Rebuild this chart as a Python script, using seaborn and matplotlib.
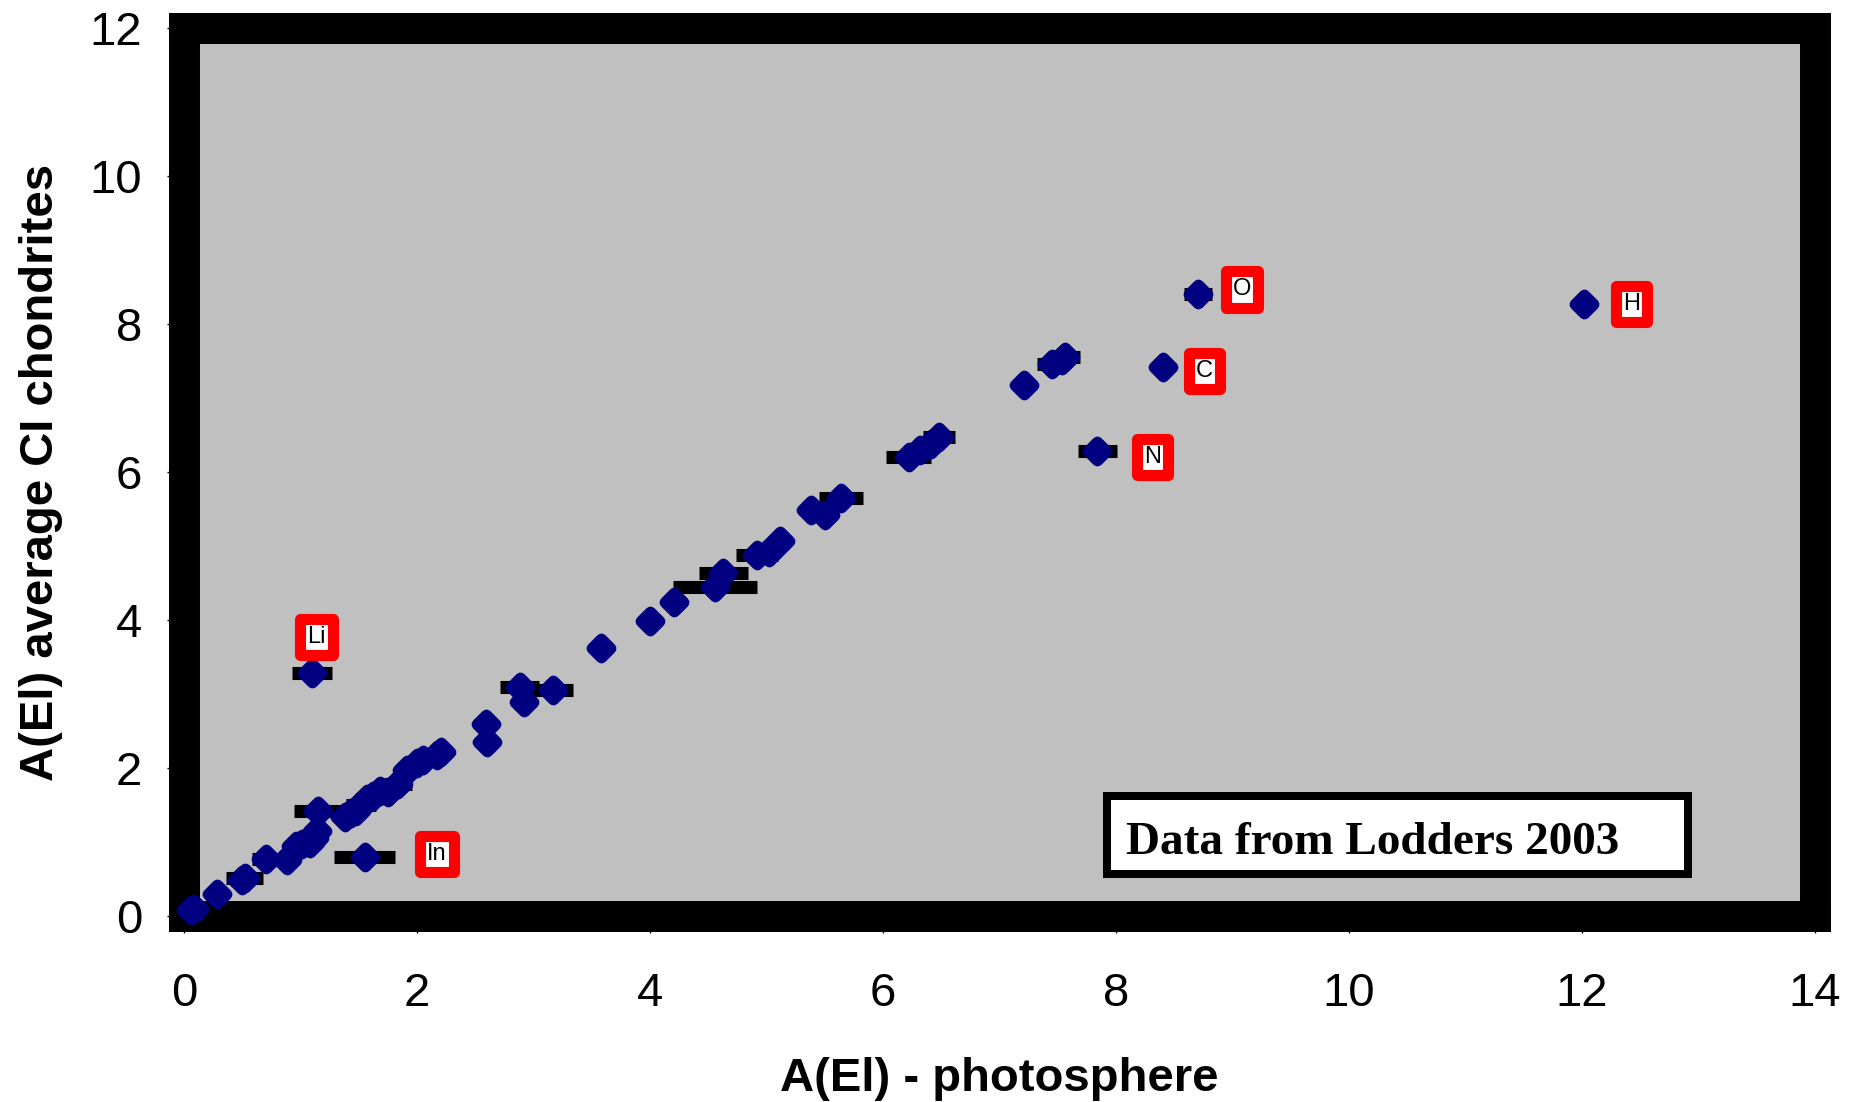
import matplotlib
matplotlib.use("Agg")
import matplotlib.pyplot as plt
import seaborn as sns
import pandas as pd
from matplotlib.markers import MarkerStyle
from matplotlib.patches import Rectangle
from matplotlib.path import Path

# ---- data ----
photosphere = [0.06, 0.09, 0.28, 0.50, 0.52, 0.70, 0.88, 0.96, 1.01, 1.08,
               1.12, 1.14, 1.15, 1.10, 1.55, 1.38, 1.43, 1.48, 1.52, 1.57,
               1.62, 1.68, 1.75, 1.84, 1.91, 2.00, 2.05, 2.17, 2.21, 2.59,
               2.60, 2.88, 2.92, 3.17, 3.58, 4.00, 4.21, 4.56, 4.63, 4.92,
               5.02, 5.12, 5.38, 5.50, 5.64, 6.22, 6.32, 6.41, 6.48, 7.21,
               7.45, 7.54, 7.56, 7.84, 8.40, 8.70, 12.02]
ci_chondrites = [0.08, 0.10, 0.30, 0.48, 0.52, 0.77, 0.76, 0.94, 0.97, 0.99,
                 1.06, 1.15, 1.42, 3.28, 0.80, 1.34, 1.39, 1.42, 1.50, 1.58,
                 1.62, 1.69, 1.67, 1.79, 1.97, 2.07, 2.11, 2.18, 2.21, 2.59,
                 2.35, 3.10, 2.89, 3.06, 3.62, 3.99, 4.25, 4.45, 4.64, 4.88,
                 4.92, 5.07, 5.49, 5.42, 5.65, 6.20, 6.30, 6.38, 6.47, 7.17,
                 7.46, 7.52, 7.56, 6.28, 7.42, 8.41, 8.27]
photosphere_err = [0.04, 0.04, 0.05, 0.10, 0.16, 0.12, 0.08, 0.06, 0.06, 0.10,
                   0.08, 0.06, 0.21, 0.17, 0.26, 0.05, 0.08, 0.05, 0.13, 0.06,
                   0.05, 0.06, 0.06, 0.12, 0.08, 0.06, 0.06, 0.07, 0.05, 0.04,
                   0.07, 0.17, 0.05, 0.17, 0.05, 0.02, 0.04, 0.36, 0.21, 0.18,
                   0.06, 0.07, 0.05, 0.05, 0.19, 0.19, 0.06, 0.05, 0.14, 0.05,
                   0.13, 0.05, 0.13, 0.17, 0.05, 0.12, 0.00]
element_labels = ['', '', '', '', '', '', '', '', '', '',
                  '', '', '', 'Li', 'In', '', '', '', '', '',
                  '', '', '', '', '', '', '', '', '', '',
                  '', '', '', '', '', '', '', '', '', '',
                  '', '', '', '', '', '', '', '', '', '',
                  '', '', '', 'N', 'C', 'O', 'H']
x_ticks = [0, 2, 4, 6, 8, 10, 12, 14]
y_ticks = [0, 2, 4, 6, 8, 10, 12]

# label offsets (points) of the red element tags
label_offsets = {'H': (34, 0), 'O': (32, 3), 'C': (30, -3),
                 'N': (40, -4), 'Li': (3, 26), 'In': (52, 2)}


def rounded_diamond(t=0.25):
    corners = [(0, 1), (1, 0), (0, -1), (-1, 0)]
    verts, codes = [], []
    n = len(corners)
    for i, c in enumerate(corners):
        prev = corners[i - 1]
        nxt = corners[(i + 1) % n]
        a = (c[0] + t * (prev[0] - c[0]), c[1] + t * (prev[1] - c[1]))
        b = (c[0] + t * (nxt[0] - c[0]), c[1] + t * (nxt[1] - c[1]))
        if i == 0:
            verts.append(a); codes.append(Path.MOVETO)
        else:
            verts.append(a); codes.append(Path.LINETO)
        verts += [c, b]; codes += [Path.CURVE3, Path.CURVE3]
    verts.append(verts[0]); codes.append(Path.CLOSEPOLY)
    return Path(verts, codes)


plt.rcParams['font.family'] = ['Liberation Sans', 'DejaVu Sans']

W, H = 1858, 1102
fig = plt.figure(figsize=(W / 100, H / 100), dpi=100)
ax = fig.add_axes([184 / W, 1 - 916 / H, 1631 / W, 888 / H])
ax.set_facecolor('#C0C0C0')

df = pd.DataFrame({'photosphere': photosphere, 'ci': ci_chondrites})

ax.errorbar(photosphere, ci_chondrites, xerr=photosphere_err, fmt='none',
            ecolor='black', elinewidth=9.4, capsize=0, zorder=3, clip_on=False)
sns.scatterplot(data=df, x='photosphere', y='ci', ax=ax,
                marker=MarkerStyle(rounded_diamond(0.25)), s=550,
                color='#000080', edgecolor='#000080', linewidth=1.0,
                legend=False, zorder=4, clip_on=False)

for xv, yv, lab in zip(photosphere, ci_chondrites, element_labels):
    if lab:
        ax.annotate(lab, xy=(xv, yv), xytext=label_offsets[lab],
                    textcoords='offset points', ha='center', va='center',
                    fontsize=17, color='black', zorder=6,
                    annotation_clip=False,
                    bbox=dict(boxstyle='square,pad=0.3', fc='white',
                              ec='red', lw=8, joinstyle='round'))

ax.set_xlim(0, 14)
ax.set_ylim(0, 12)
ax.set_xticks(x_ticks)
ax.set_yticks(y_ticks)
ax.set_xticklabels([str(t) for t in x_ticks])
ax.set_yticklabels([str(t) for t in y_ticks])
ax.tick_params(axis='both', direction='out', length=12, width=1,
               color='black', labelsize=34, labelcolor='black')
ax.tick_params(axis='x', pad=28.5)
ax.tick_params(axis='y', pad=18.2)

for sp in ax.spines.values():
    sp.set_linewidth(22.3)
    sp.set_color('black')
    sp.set_visible(True)

ax.set_xlabel('A(El) - photosphere', fontsize=34, fontweight='bold')
ax.set_ylabel('A(El) average CI chondrites', fontsize=34, fontweight='bold')
ax.xaxis.set_label_coords(0.5, -0.159)
ax.yaxis.set_label_coords(-0.0742, 0.5)

# annotation box
ax.add_patch(Rectangle((0.5659, 0.0473), 0.3562, 0.0878, transform=ax.transAxes,
                       facecolor='white', edgecolor='black', linewidth=5.76,
                       joinstyle='miter', zorder=5, clip_on=False))
ax.text(0.5776, 0.0698, 'Data from Lodders 2003', transform=ax.transAxes,
        fontsize=34, fontweight='bold',
        family=['Liberation Serif', 'DejaVu Serif'],
        ha='left', va='baseline', zorder=6)

fig.savefig('out.png', dpi=100, facecolor='white')
